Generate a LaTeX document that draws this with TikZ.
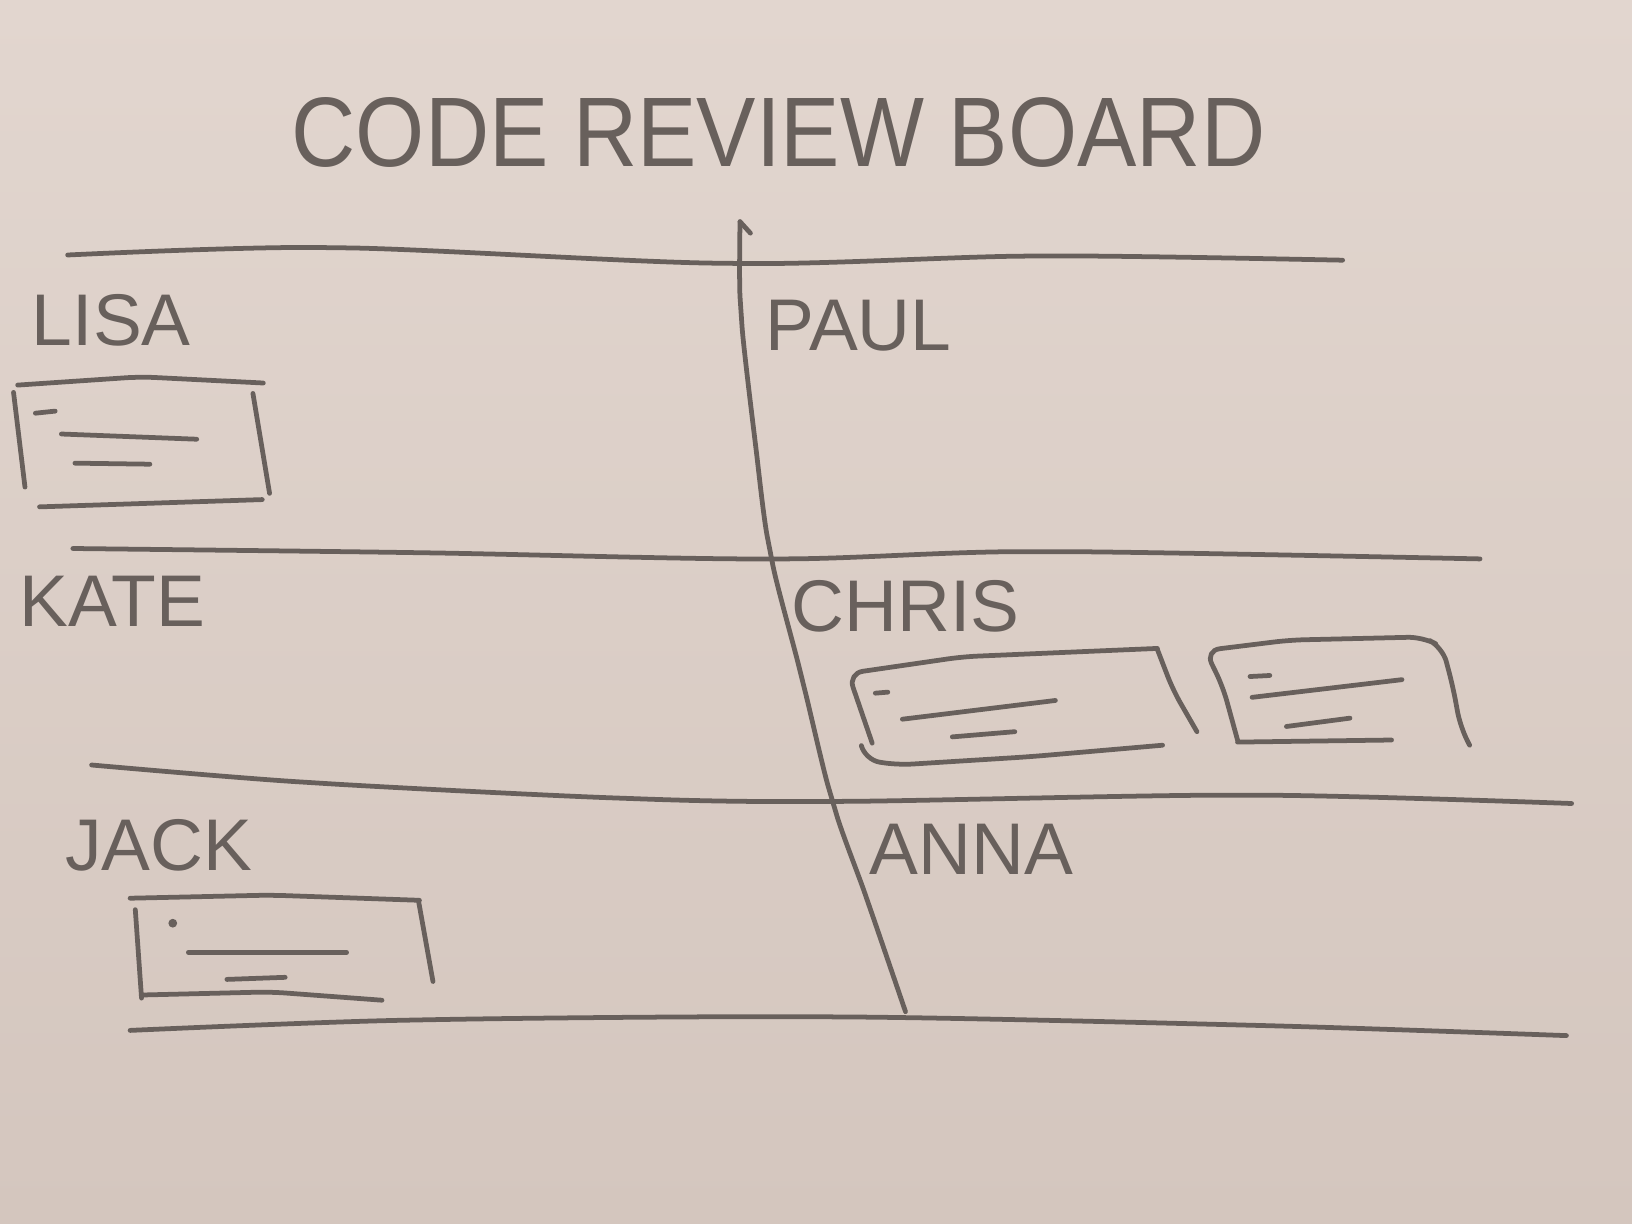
\documentclass[tikz,border=0pt]{standalone}
\usepackage{fontspec}
\setmainfont{Liberation Sans}
\usepackage{xcolor}
\usepackage{tikz}
\usetikzlibrary{positioning,calc}

\definecolor{paperTop}{RGB}{226,214,207}
\definecolor{paperBot}{RGB}{212,198,190}
\definecolor{pencilGray}{RGB}{104,96,92}

\begin{document}
\begin{tikzpicture}[x=0.01cm,y=-0.01cm, line cap=round, line join=round]
	\useasboundingbox (0,0) rectangle (1568,1176);
	\shade[top color=paperTop, bottom color=paperBot] (0,0) rectangle (1568,1176);

	% ===== style =====
	\tikzset{pencil/.style={draw=pencilGray, line width=1.3pt, rounded corners=4},
		person/.style={anchor=west, inner sep=0pt, text=pencilGray, font=\fontsize{20}{24}\selectfont}}

	% ===== title =====
	\node[inner sep=0pt, text=pencilGray, font=\fontsize{27}{32}\selectfont] (title) at (748,127) {\scalebox{0.9}[1]{CODE REVIEW BOARD}};

	% ===== row lines =====
	\draw[pencil] plot[smooth] coordinates {(65,245) (320,238) (700,253) (1000,246) (1290,250)};
	\draw[pencil] plot[smooth] coordinates {(70,527) (400,531) (740,537) (1000,530) (1422,537)};
	\draw[pencil] plot[smooth] coordinates {(88,735) (300,752) (600,767) (800,770) (1200,764) (1510,772)};
	\draw[pencil] plot[smooth] coordinates {(125,990) (400,980) (800,977) (1200,985) (1505,995)};

	% ===== column line =====
	\draw[pencil] (721,224) -- (711,213);
	\draw[pencil] plot[smooth] coordinates {(711,213) (712,300) (725,420) (740,530) (770,650) (800,770) (835,870) (870,972)};

	% ===== names =====
	\foreach \n/\t/\x/\y in {lisa/LISA/30/308, paul/PAUL/735/313, kate/KATE/18/578,
		chris/CHRIS/760/583, jack/JACK/62/812, anna/ANNA/835/816}{
		\node[person] (\n) at (\x,\y) {\t};
	}

	% ===== card: Lisa =====
	\draw[pencil] (17,370) -- (135,362) -- (253,368);
	\draw[pencil] (13,377) -- (24,468);
	\draw[pencil] (243,378) -- (259,474);
	\draw[pencil] (38,487) -- (252,480);
	\draw[pencil] (34,397) -- (53,395);
	\draw[pencil] (59,417) -- (189,422);
	\draw[pencil] (72,445) -- (144,446);

	% ===== card: Chris 1 =====
	\draw[pencil] (838,714) -- (815,647) -- (925,631) -- (1112,623);
	\draw[pencil] (1112,624) -- (1127,663) -- (1150,703);
	\draw[pencil] (828,718) -- (831,730) -- (862,735) -- (990,727) -- (1117,716);
	\draw[pencil] (841,666) -- (853,665);
	\draw[pencil] (867,691) -- (1014,673);
	\draw[pencil] (915,708) -- (975,703);

	% ===== card: Chris 2 =====
	\draw[pencil] (1189,711) -- (1175,660) -- (1158,625) -- (1239,615) -- (1367,612) -- (1386,622) -- (1396,660) -- (1403,698) -- (1412,716);
	\draw[pencil] (1189,713) -- (1337,711);
	\draw[pencil] (1201,650) -- (1220,649);
	\draw[pencil] (1203,670) -- (1347,653);
	\draw[pencil] (1236,698) -- (1297,690);

	% ===== card: Jack =====
	\draw[pencil] (125,863) -- (260,860) -- (403,865);
	\draw[pencil] (402,865) -- (416,943);
	\draw[pencil] (130,874) -- (136,959);
	\draw[pencil] (136,956) -- (260,953) -- (367,961);
	\fill[pencilGray] (166,887) circle (1.2pt);
	\draw[pencil] (181,915) -- (333,915);
	\draw[pencil] (218,941) -- (274,939);
\end{tikzpicture}
\end{document}
